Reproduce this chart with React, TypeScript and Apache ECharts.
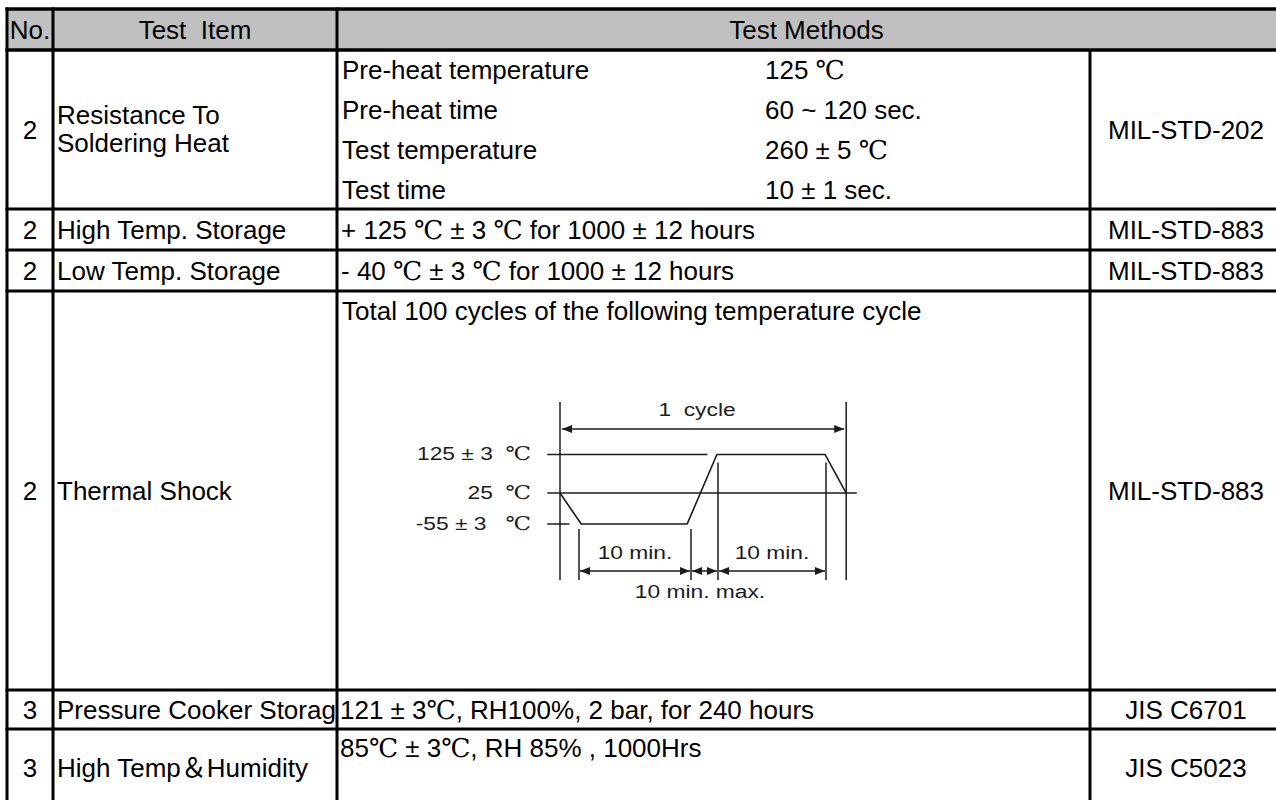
import React, { useEffect, useRef } from "react";
import * as echarts from "echarts";

// ---------- table content ----------
const headerLabels = ["No.", "Test  Item", "Test Methods"];
const itemNumbers = ["2", "2", "2", "2", "3", "3"];
const testItems = [
  "Resistance To\nSoldering Heat",
  "High Temp. Storage",
  "Low Temp. Storage",
  "Thermal Shock",
  "Pressure Cooker Storage",
  "High Temp＆Humidity",
];
const standards = ["MIL-STD-202", "MIL-STD-883", "MIL-STD-883", "MIL-STD-883", "JIS C6701", "JIS C5023"];
const solderParams = ["Pre-heat temperature", "Pre-heat time", "Test temperature", "Test time"];
const solderValues = ["125 ℃", "60 ~ 120 sec.", "260 ± 5 ℃", "10 ± 1 sec."];
const storageMethods = ["+ 125 ℃ ± 3 ℃ for 1000 ± 12 hours", "- 40 ℃ ± 3 ℃ for 1000 ± 12 hours"];
const thermalMethod = "Total 100 cycles of the following temperature cycle";
const pressureMethod = "121 ± 3℃, RH100%, 2 bar, for 240 hours";
const humidityMethod = "85℃ ± 3℃, RH 85% , 1000Hrs";

// ---------- thermal cycle diagram data (schematic minutes / °C) ----------
const cycleMinutes = [0, 2, 12, 14.8, 25, 27];
const cycleTempC = [25, -55, -55, 125, 125, 25];
const levelTempC = [125, 25, -55];
const levelFrom = [-1.2, -1.2, -1.2];
const levelTo = [13.9, 28, 0.9];
const levelLabels = ["125 ± 3  ℃", "25  ℃", "-55 ± 3   ℃"];
const spanLabels = ["1  cycle", "10 min.", "10 min.", "10 min. max."];

// ---------- layout ----------
const COLS = [7, 53, 337, 1090, 1282];
const ROWS = [9, 50, 209, 250, 291, 690, 729, 806];
const FAMILY = '"Liberation Sans", Arial, "DejaVu Serif", "DejaVu Sans", "Noto Sans CJK SC", sans-serif';
const FONT = "26px " + FAMILY;
const DFONT = "19px " + FAMILY;
const INK = "#1c1c1c";

// diagram grid mapping
const X_MIN = -2, X_MAX = 29, Y_MIN = -252, Y_MAX = 266;
const G_LEFT = 538.8, G_TOP = 400, G_W = 328.6, G_H = 200;
const px = (t: number) => G_LEFT + ((t - X_MIN) / (X_MAX - X_MIN)) * G_W;
const py = (v: number) => G_TOP + ((Y_MAX - v) / (Y_MAX - Y_MIN)) * G_H;

function txt(text: string, x: number, y: number, align = "left", extra: any = {}, z2 = 10) {
  return {
    type: "text",
    x,
    y,
    z2,
    silent: true,
    style: { text, fill: "#000", font: FONT, textAlign: align, textVerticalAlign: "middle", ...extra },
  };
}
function dtxt(text: string, x: number, y: number, align = "center") {
  return {
    type: "text",
    x,
    y,
    z2: 10,
    scaleX: 1.2,
    silent: true,
    style: { text, fill: INK, font: DFONT, textAlign: align, textVerticalAlign: "middle" },
  };
}
function ln(x1: number, y1: number, x2: number, y2: number, w = 3, color = "#000", z2 = 20) {
  return { type: "line", z2, silent: true, shape: { x1, y1, x2, y2 }, style: { stroke: color, lineWidth: w } };
}
function head(x: number, y: number, dir: number) {
  const L = 10, H = 4;
  return {
    type: "polygon",
    z2: 12,
    silent: true,
    shape: { points: [[x, y], [x - dir * L, y - H], [x - dir * L, y + H]] },
    style: { fill: INK },
  };
}
function dblArrow(x1: number, x2: number, y: number) {
  return [ln(x1, y, x2, y, 1.5, INK, 11), head(x1, y, -1), head(x2, y, 1)];
}

function buildGraphic() {
  const els: any[] = [];
  const [c0, c1, c2, c3, c4] = COLS;
  els.push({ type: "rect", z2: 0, silent: true, shape: { x: c0, y: ROWS[0], width: c4 - c0, height: ROWS[1] - ROWS[0] }, style: { fill: "#c0c0c0" } });
  const hy = (ROWS[0] + ROWS[1]) / 2;
  els.push(txt(headerLabels[0], (c0 + c1) / 2, hy, "center"));
  els.push(txt(headerLabels[1], (c1 + c2) / 2, hy, "center"));
  els.push(txt(headerLabels[2], (c2 + 1276) / 2, hy, "center"));

  for (let i = 0; i < itemNumbers.length; i++) {
    const top = ROWS[i + 1], bot = ROWS[i + 2];
    const cy = (top + bot) / 2;
    els.push(txt(itemNumbers[i], (c0 + c1) / 2, cy, "center"));
    const parts = testItems[i].split("\n");
    parts.forEach((p, k) => {
      const y = cy + (k - (parts.length - 1) / 2) * 28 - (parts.length > 1 ? 1 : 0);
      els.push(txt(p, c1 + 4, y, "left", {}, 1));
    });
    els.push(txt(standards[i], (c3 + c4) / 2, cy, "center"));
  }
  // cover clipping the overflowing item text in the pressure cooker row
  els.push({ type: "rect", z2: 5, silent: true, shape: { x: c2 + 1, y: ROWS[5] + 1, width: c3 - c2 - 2, height: ROWS[6] - ROWS[5] - 2 }, style: { fill: "#fff" } });

  for (let j = 0; j < solderParams.length; j++) {
    const y = ROWS[1] + 19.5 + j * 40.3;
    els.push(txt(solderParams[j], c2 + 5, y));
    els.push(txt(solderValues[j], 765, y));
  }
  els.push(txt(storageMethods[0], c2 + 4, (ROWS[2] + ROWS[3]) / 2));
  els.push(txt(storageMethods[1], c2 + 4, (ROWS[3] + ROWS[4]) / 2));
  els.push(txt(thermalMethod, c2 + 5, ROWS[4] + 20));
  els.push(txt(pressureMethod, c2 + 3, (ROWS[5] + ROWS[6]) / 2));
  els.push(txt(humidityMethod, c2 + 3, ROWS[6] + 19));

  const lw = 3;
  els.push(ln(c0 - 1.5, ROWS[0], c4, ROWS[0], 3.5));
  els.push(ln(c0 - 1.5, ROWS[1], c4, ROWS[1], 3.5));
  for (let r = 2; r < ROWS.length; r++) els.push(ln(c0 - 1.5, ROWS[r], c4, ROWS[r], lw));
  els.push(ln(c0, ROWS[0] - 1.5, c0, ROWS[7], lw));
  els.push(ln(c1, ROWS[0] - 1.5, c1, ROWS[7], lw));
  els.push(ln(c2, ROWS[0] - 1.5, c2, ROWS[7], lw));
  els.push(ln(c3, ROWS[1], c3, ROWS[7], lw));

  // ---- thermal diagram annotations ----
  const xStart = px(cycleMinutes[0]);
  const xEnd = px(cycleMinutes[5]);
  els.push(ln(xStart, 402, xStart, 580, 1.5, INK, 11));
  els.push(ln(xEnd, 402, xEnd, 580, 1.5, INK, 11));
  els.push(...dblArrow(xStart + 2, xEnd - 2, 429));
  els.push(dtxt(spanLabels[0], 697, 409));
  for (let k = 0; k < levelTempC.length; k++) {
    els.push(dtxt(levelLabels[k], 531, py(levelTempC[k]) - 1, "right"));
  }
  const xa = 579, xb = 691, xc = 718, xd = 826;
  els.push(ln(xa, 529, xa, 580, 1.5, INK, 11));
  els.push(ln(xb, 529, xb, 580, 1.5, INK, 11));
  els.push(ln(xc, py(125) + 8, xc, 580, 1.5, INK, 11));
  els.push(ln(xd, py(125) + 8, xd, 580, 1.5, INK, 11));
  els.push(...dblArrow(xa + 1, xb - 1, 571));
  els.push(...dblArrow(xb + 1, xc - 1, 571));
  els.push(...dblArrow(xc + 1, xd - 1, 571));
  els.push(dtxt(spanLabels[1], (xa + xb) / 2, 552));
  els.push(dtxt(spanLabels[2], (xc + xd) / 2, 552));
  els.push(dtxt(spanLabels[3], 700, 591));
  return els;
}

function buildOption(): any {
  const lineStyle = { color: INK, width: 1.6 };
  const levelSeries = levelTempC.map((t, i) => ({
    type: "line",
    silent: true,
    symbol: "none",
    lineStyle,
    data: [
      [levelFrom[i], t],
      [levelTo[i], t],
    ],
  }));
  return {
    animation: false,
    backgroundColor: "#ffffff",
    grid: { left: G_LEFT, top: G_TOP, width: G_W, height: G_H, outerBoundsMode: "none" },
    xAxis: { type: "value", min: X_MIN, max: X_MAX, show: false },
    yAxis: { type: "value", min: Y_MIN, max: Y_MAX, show: false },
    tooltip: { show: false },
    series: [
      {
        type: "line",
        silent: true,
        symbol: "none",
        lineStyle,
        data: cycleMinutes.map((m, i) => [m, cycleTempC[i]]),
      },
      ...levelSeries,
    ],
    graphic: { elements: buildGraphic() },
  };
}

export default function App() {
  const ref = useRef<HTMLDivElement>(null);
  useEffect(() => {
    document.body.style.margin = "0";
    if (!ref.current) return;
    const chart = echarts.init(ref.current, null, { renderer: "svg" });
    chart.setOption(buildOption());
    return () => chart.dispose();
  }, []);
  return (
    <div style={{ position: "fixed", left: 0, top: 0, width: 1276, height: 800, background: "#fff" }}>
      <div ref={ref} style={{ width: 1276, height: 800 }} />
    </div>
  );
}
